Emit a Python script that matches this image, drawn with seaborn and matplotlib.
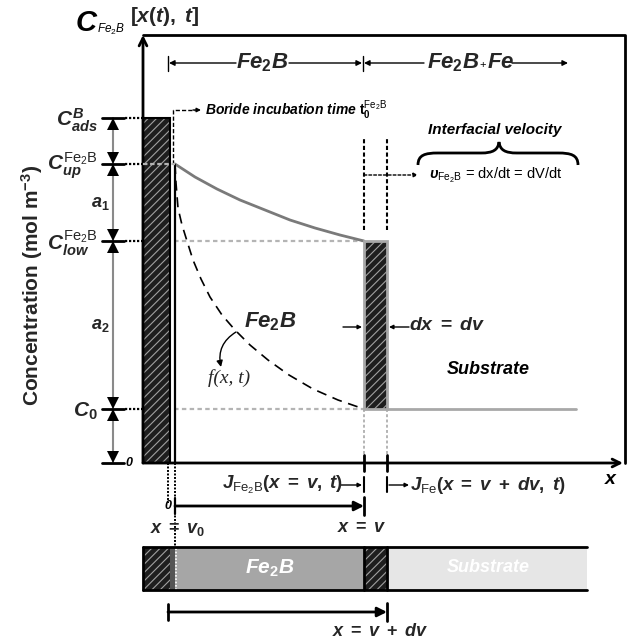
import matplotlib
matplotlib.use("Agg")
import matplotlib.pyplot as plt
import seaborn as sns
from matplotlib.patches import Rectangle, PathPatch
from matplotlib.path import Path

# ---- diagram values (origin at the axis corner, units ~ pixels) ----
level_labels = [r"$C^{B}_{ads}$", r"$C^{\mathsf{Fe_2B}}_{up}$",
                r"$C^{\mathsf{Fe_2B}}_{low}$", r"$C_{0}$"]
level_values = [345, 299, 222, 54]          # C_ads, C_up, C_low, C_0
zero_level = 0
gap_labels = [r"$a_1$", r"$a_2$"]

block_right = 27      # adsorbed-boron layer width
v0 = 32               # x = v0
v = 221               # x = v
v_dv = 244            # x = v + dv
substrate_end = 433
frame_top = 428
frame_right = 482

# solid concentration profile across Fe2B (C_up -> C_low)
upper_x = [32, 52, 74, 97, 122, 147, 172, 197, 221]
upper_c = [299, 286, 274, 263, 253, 243, 235, 228, 222]
# dashed profile f(x, t) (C_up -> C_0)
lower_x = [32, 33, 35, 39, 44, 50, 58, 67, 79, 92, 107, 125, 146, 170, 195, 221]
lower_c = [299, 280, 255, 238, 222, 203, 184, 166, 148, 133, 118, 103, 88, 74, 63, 54]

sns.set_theme(style="white")
plt.rcParams.update({
    "font.family": ["Liberation Sans", "DejaVu Sans"],
    "mathtext.fontset": "custom",
    "mathtext.rm": "Liberation Sans:bold",
    "mathtext.it": "Liberation Sans:bold:italic",
    "mathtext.bf": "Liberation Sans:bold",
    "mathtext.sf": "Liberation Sans",
    "hatch.linewidth": 0.8,
})

fig = plt.figure(figsize=(6.27, 6.41), dpi=100)
ax = fig.add_axes([0, 0, 1, 1])
ax.set_xlim(-143, 484)
ax.set_ylim(-178, 463)
ax.axis("off")

BI = dict(fontweight="bold", fontstyle="italic", color="black")
GRAY = "#8a8a8a"
LGRAY = "#b4b4b4"


def arrow(x0, y0, x1, y1, style="-|>", lw=1.2, color="black", ls="-", ms=8):
    ax.annotate("", xy=(x1, y1), xytext=(x0, y0),
                arrowprops=dict(arrowstyle=style, lw=lw, color=color, ls=ls,
                                shrinkA=0, shrinkB=0, mutation_scale=ms))


def hatched(x, y, w, h, edge="black", elw=1.5):
    ax.add_patch(Rectangle((x, y), w, h, facecolor="#1e1e1e", edgecolor="#a0a0a0",
                           hatch="////", lw=0, zorder=2))
    ax.add_patch(Rectangle((x, y), w, h, facecolor="none", edgecolor=edge,
                           lw=elw, zorder=3))


# ---- axes frame ----
arrow(0, 0, 0, frame_top, style="->", lw=2, ms=14)
ax.plot([0, frame_right, frame_right], [frame_top, frame_top, 0], color="black", lw=2)
arrow(0, 0, frame_right - 2, 0, style="->", lw=2, ms=14)
ax.text(467, -17, "x", fontsize=14, ha="center", va="center", **BI)

# title and y label
ax.text(-46, 440, "C", fontsize=21, ha="right", va="center", **BI)
ax.text(-46, 434, r"Fe$_{\mathsf{2}}$B", fontsize=8.5, ha="left", va="center",
        fontstyle="italic", color="black")
ax.text(-13, 446, r"$[x(t),\;t]$", fontsize=15, ha="left", va="center")
ax.text(-111, 178, r"Concentration (mol m$^{\mathbf{-3}}$)", fontsize=15,
        fontweight="bold", rotation=90, ha="center", va="center")

# ---- left dimension scale ----
dim_x = -30
ax.plot([dim_x, dim_x], [zero_level, level_values[0]], color=GRAY, lw=1.5, zorder=1)
all_levels = level_values + [zero_level]
for i, lv in enumerate(all_levels):
    ax.plot([dim_x - 11, dim_x + 11], [lv, lv], color="black", lw=2)
    if i > 0:
        ax.plot(dim_x, lv + 6, marker="v", ms=9, color="black", mew=0)
    if i < len(all_levels) - 1:
        ax.plot(dim_x, lv - 6, marker="^", ms=9, color="black", mew=0)
for lab, lv in zip(level_labels, level_values):
    ax.text(-45, lv - 2, lab, fontsize=15, ha="right", va="center")
    ax.plot([dim_x + 12, 0], [lv, lv], color="black", lw=1.6, ls=(0, (1, 0.8)))
ax.text(-11, zero_level, "0", fontsize=9, ha="right", va="center", **BI)
ax.text(-43, 259, gap_labels[0], fontsize=13, ha="center", va="center")
ax.text(-43, 137, gap_labels[1], fontsize=13, ha="center", va="center")

# guide lines from the levels
ax.plot([0, v0], [level_values[1]] * 2, color=LGRAY, lw=1.6, ls=(0, (2, 1.2)), zorder=4)
for lv in level_values[2:]:
    ax.plot([0, v], [lv, lv], color=LGRAY, lw=1.6, ls=(0, (2, 1.5)), zorder=1)

# adsorbed-boron layer and the v0 line
hatched(0, zero_level, block_right, level_values[0])
ax.plot([v0, v0], [zero_level, level_values[1]], color="black", lw=1.6)

# ---- concentration profiles ----
sns.lineplot(x=upper_x, y=upper_c, ax=ax, color="#7a7a7a", lw=2, sort=False,
             estimator=None)
sns.lineplot(x=lower_x, y=lower_c, ax=ax, color="black", lw=1.2, sort=False,
             estimator=None, dashes=False, linestyle=(0, (6, 4)))

# interface slab dx and substrate level
ax.add_patch(Rectangle((v, level_values[3]), v_dv - v, level_values[2] - level_values[3],
                       facecolor="#1e1e1e", edgecolor="#a0a0a0", hatch="////", lw=0, zorder=2))
ax.add_patch(Rectangle((v, level_values[3]), v_dv - v, level_values[2] - level_values[3],
                       facecolor="none", edgecolor="#a8a8a8", lw=2, zorder=3))
ax.plot([v_dv, substrate_end], [level_values[3]] * 2, color="#a8a8a8", lw=2)

# ---- top phase arrows ----
ty = 400
ax.plot([25, 25], [392, 407], color="black", lw=1)
ax.plot([220, 220], [392, 407], color="black", lw=1)
arrow(93, ty, 26, ty, lw=1)
arrow(146, ty, 219, ty, lw=1)
arrow(281, ty, 221, ty, lw=1)
arrow(369, ty, 425, ty, lw=1)
ax.text(119, ty, r"$Fe_2B$", fontsize=16, ha="center", va="center")
ax.text(336, ty, r"$Fe_2B$", fontsize=16, ha="right", va="center")
ax.text(340, ty - 2, "+", fontsize=8, ha="center", va="center", color="black")
ax.text(344, ty, r"$Fe$", fontsize=16, ha="left", va="center")

# incubation time marker
ax.plot([30, 30, 52], [level_values[1], 353, 353], color="black", lw=1,
        ls=(0, (3, 1.5)))
arrow(50, 353, 58, 353, lw=1, ms=6)
ax.text(62, 353, r"Boride incubation time $\mathbf{t}_0^{\mathsf{Fe_2B}}$",
        fontsize=10, ha="left", va="center", **BI)

# interfacial velocity
for xx in (v, v_dv):
    ax.plot([xx, xx], [233, 325], color="black", lw=1.5, ls=(0, (2, 1.2)))
arrow(v, 288, 275, 288, lw=1, ls=(0, (2, 1.5)), ms=6)
ax.text(352, 333, "Interfacial velocity", fontsize=11, ha="center", va="center", **BI)
brace = Path([(275, 298),
              (275, 308), (282, 310), (295, 310),
              (338, 310),
              (350, 310), (355, 313), (356, 321),
              (357, 313), (362, 310), (374, 310),
              (415, 310),
              (428, 310), (435, 308), (435, 298)],
             [Path.MOVETO,
              Path.CURVE4, Path.CURVE4, Path.CURVE4,
              Path.LINETO,
              Path.CURVE4, Path.CURVE4, Path.CURVE4,
              Path.CURVE4, Path.CURVE4, Path.CURVE4,
              Path.LINETO,
              Path.CURVE4, Path.CURVE4, Path.CURVE4])
ax.add_patch(PathPatch(brace, facecolor="none", edgecolor="black", lw=2))
ax.text(286, 288, r"$\upsilon_{\mathsf{Fe_2B}}$" + " = dx/dt = dV/dt", fontsize=10.5,
        ha="left", va="center", color="black")

# labels inside the plot
ax.text(127, 141, r"$Fe_2B$", fontsize=16, ha="center", va="center")
ax.text(86, 85, "f(x, t)", fontsize=14, family="Liberation Serif", style="italic",
        ha="center", va="center")
ax.annotate("", xy=(78, 96), xytext=(93, 131),
            arrowprops=dict(arrowstyle="-|>", lw=1, color="black",
                            connectionstyle="arc3,rad=0.35", shrinkA=0, shrinkB=0,
                            mutation_scale=9))
arrow(200, 136, 219, 136, lw=1, ms=6)
arrow(266, 136, 246, 136, lw=1, ms=6)
ax.text(266, 137, r"$dx\;=\;dv$", fontsize=14, ha="left", va="center")
ax.text(345, 93, "Substrate", fontsize=13, ha="center", va="center", **BI)

# ---- below the x axis ----
for xx in (v, v_dv):
    ax.plot([xx, xx], [level_values[3], 0], color=LGRAY, lw=1.4, ls=(0, (1.5, 1.2)))
    ax.plot([xx, xx], [-8, 8], color="black", lw=2)
    ax.plot([xx, xx], [-14, -29], color="black", lw=1.5)
arrow(198, -22, 219, -22, lw=1, ms=6)
arrow(246, -22, 266, -22, lw=1, ms=6)
ax.text(79, -22, r"$J_{\mathsf{Fe_2B}}(x\;=\;v,\;t)$", fontsize=13.5, ha="left", va="center")
ax.text(267, -22, r"$J_{\mathsf{Fe}}(x\;=\;v\;+\;dv,\;t)$", fontsize=13.5, ha="left",
        va="center")

ax.plot([25, 25], [0, -40], color="black", lw=1.4, ls=(0, (1, 0.8)))
ax.plot([v0, v0], [0, -84], color="black", lw=1.4, ls=(0, (1, 0.8)))
ax.plot([v0, v0], [-35, -51], color="black", lw=1.6)
ax.text(28, -43, "0", fontsize=9, ha="right", va="center", **BI)
arrow(v0, -43, v, -43, lw=2, ms=14)
ax.plot([v, v], [-34, -52], color="black", lw=2)
ax.text(v - 2, -64, r"$x\;=\;v$", fontsize=13, ha="center", va="center")
ax.text(35, -67, r"$x\;=\;v_0$", fontsize=13, ha="center", va="center")

# ---- layer bar ----
by0, by1 = -127, -84
hatched(0, by0, block_right, by1 - by0, elw=0)
ax.add_patch(Rectangle((block_right, by0), v0 - block_right, by1 - by0,
                       facecolor="#555555", lw=0))
ax.add_patch(Rectangle((v0, by0), v - v0, by1 - by0, facecolor="#a6a6a6", lw=0))
hatched(v, by0, v_dv - v, by1 - by0, elw=0)
ax.add_patch(Rectangle((v_dv, by0), 444 - v_dv, by1 - by0, facecolor="#e6e6e6", lw=0))
ax.plot([v0 + 1, v0 + 1], [by0, by1], color="white", lw=1.2, ls=(0, (1, 1)))
ax.plot([0, 444], [by1, by1], color="black", lw=2)
ax.plot([0, 444], [by0, by0], color="black", lw=2)
for xx in (0, v, v_dv):
    ax.plot([xx, xx], [by0, by1], color="black", lw=2)
ax.text(127, -105, r"$Fe_2B$", fontsize=15, ha="center", va="center", color="white")
ax.text(345, -105, "Substrate", fontsize=13, ha="center", va="center",
        fontweight="bold", fontstyle="italic", color="white")

# total layer arrow
arrow(25, -149, v_dv, -149, lw=2, ms=14)
ax.plot([25, 25], [-141, -157], color="black", lw=2)
ax.plot([v_dv, v_dv], [-140, -158], color="black", lw=2)
ax.text(237, -168, r"$x\;=\;v\;+\;dv$", fontsize=13, ha="center", va="center")

fig.savefig("out.png", dpi=100)
